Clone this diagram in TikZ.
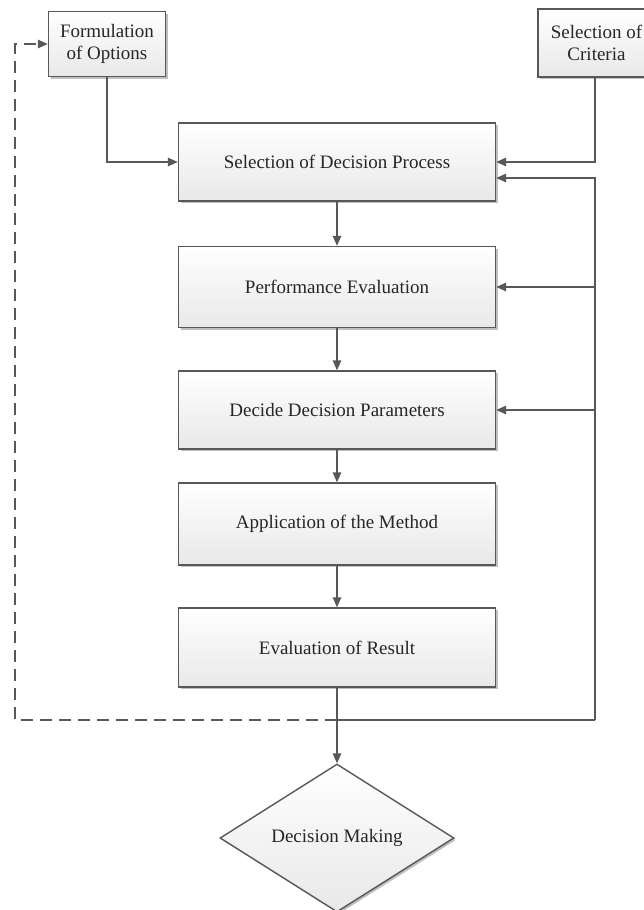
\documentclass[tikz,border=0pt]{standalone}
\usepackage{fontspec}
\setmainfont{Liberation Serif}
\usetikzlibrary{arrows.meta,shapes.geometric,shadows,calc}
\definecolor{lnc}{HTML}{585858}
\definecolor{txc}{HTML}{262626}
\tikzset{
  boxbase/.style={draw=lnc, line width=1.4pt, top color=white, bottom color=black!9,
    text=txc, align=center, inner sep=0pt, font=\fontsize{19}{22}\selectfont,
    drop shadow={shadow xshift=2pt, shadow yshift=-2pt, opacity=0.25, fill=black}},
  mainbox/.style={boxbase, rectangle, minimum width=317pt},
  smallbox/.style={boxbase, rectangle, minimum width=117pt},
  decision/.style={boxbase, diamond, minimum width=234pt, minimum height=148pt, aspect=1.58},
  arr/.style={draw=lnc, line width=1.4pt, -{Triangle[length=10pt,width=8.5pt]}},
  plainline/.style={draw=lnc, line width=1.4pt},
  dasharr/.style={arr, dash pattern=on 12pt off 7pt}
}
\begin{document}
\begin{tikzpicture}[x=1pt,y=-1pt]
\clip (0,0) rectangle (644,910);
\fill[white] (0,0) rectangle (644,910);

\node[smallbox, minimum height=65pt] (form) at (107,44) {Formulation\\of Options};
\node[smallbox, minimum height=68pt] (crit) at (596.5,43) {Selection of\\Criteria};

\node[mainbox, minimum height=78pt] (n1) at (337,162) {Selection of Decision Process};
\node[mainbox, minimum height=81pt] (n2) at (337,287) {Performance Evaluation};
\node[mainbox, minimum height=78pt] (n3) at (337,410) {Decide Decision Parameters};
\node[mainbox, minimum height=82pt] (n4) at (337,524) {Application of the Method};
\node[mainbox, minimum height=79pt] (n5) at (337,647.5) {Evaluation of Result};
\node[decision] (dm) at (337,838) {Decision Making};

\coordinate (j) at (337,720);
\coordinate (r) at (595,720);
\coordinate (dl) at (15,720);
\coordinate (dt) at (15,44);

% top inputs
\draw[arr] (form.south) |- (n1.west);
\draw[arr] (crit.south -| r) |- (n1.east);

% main chain
\draw[arr] (n1) -- (n2);
\draw[arr] (n2) -- (n3);
\draw[arr] (n3) -- (n4);
\draw[arr] (n4) -- (n5);
\draw[arr] (n5) -- (dm);

% feedback loop on the right
\draw[plainline] (j) -- (r);
\draw[arr] (r) |- ($(n1.east)+(0,16)$);
\draw[arr] (r |- n2.east) -- (n2.east);
\draw[arr] (r |- n3.east) -- (n3.east);

% dashed feedback on the left
\draw[dasharr] (j) -- (dl) -- (dt) -- (form.west);
\end{tikzpicture}
\end{document}
